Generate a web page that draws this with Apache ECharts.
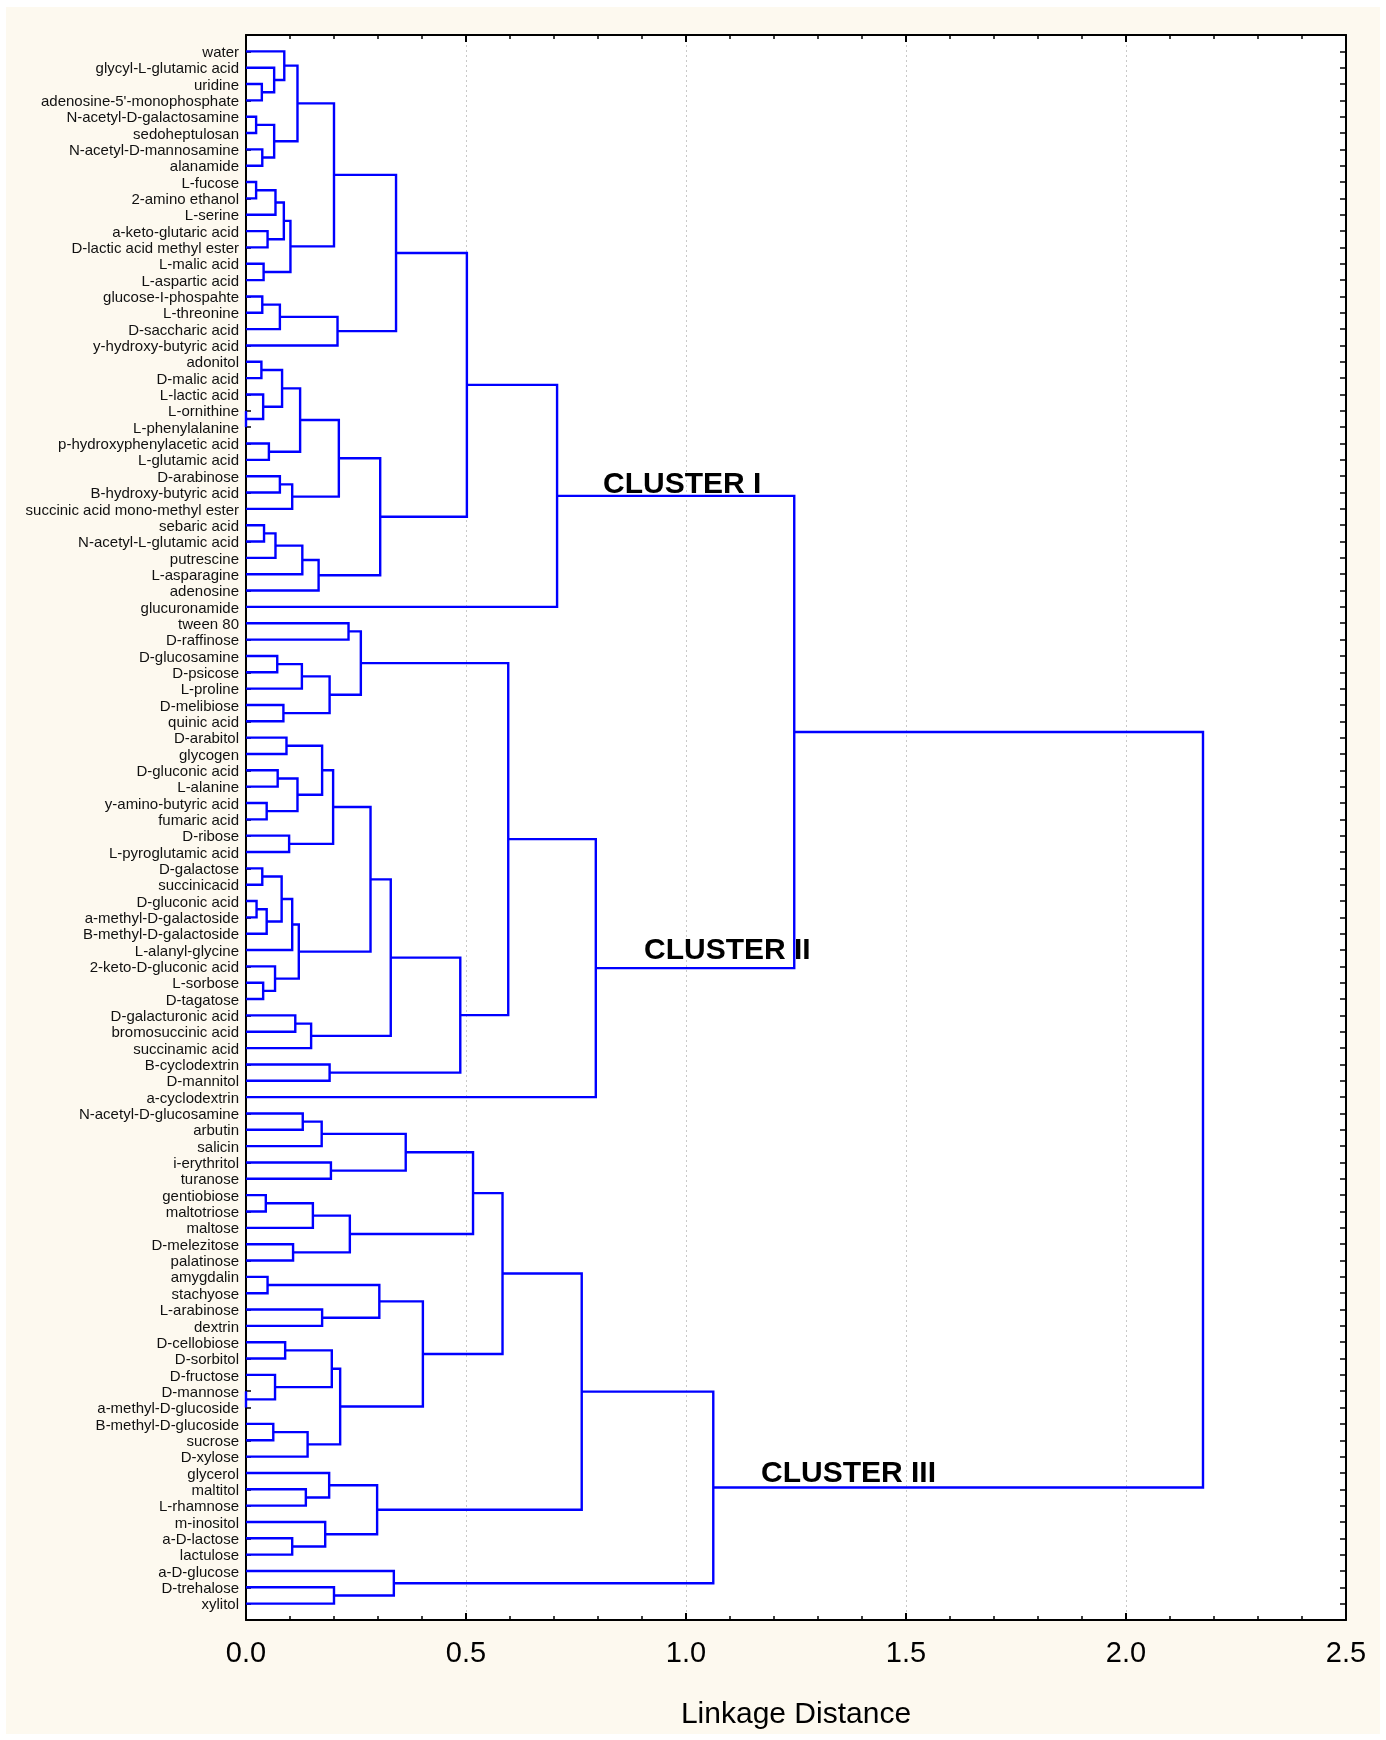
<!DOCTYPE html>
<html><head><meta charset="utf-8">
<script src="https://cdn.jsdelivr.net/npm/echarts@6/dist/echarts.min.js"></script>
<style>html,body{margin:0;padding:0;background:#fff}#c{position:absolute;left:6px;top:7px;width:1374px;height:1727px}</style>
</head><body><div id="c"></div><script>
// Leaf labels (top to bottom)
const leaves = [
"water","glycyl-L-glutamic acid","uridine","adenosine-5'-monophosphate","N-acetyl-D-galactosamine",
"sedoheptulosan","N-acetyl-D-mannosamine","alanamide","L-fucose","2-amino ethanol","L-serine",
"a-keto-glutaric acid","D-lactic acid methyl ester","L-malic acid","L-aspartic acid","glucose-I-phospahte",
"L-threonine","D-saccharic acid","y-hydroxy-butyric acid","adonitol","D-malic acid","L-lactic acid",
"L-ornithine","L-phenylalanine","p-hydroxyphenylacetic acid","L-glutamic acid","D-arabinose",
"B-hydroxy-butyric acid","succinic acid mono-methyl ester","sebaric acid","N-acetyl-L-glutamic acid",
"putrescine","L-asparagine","adenosine","glucuronamide","tween 80","D-raffinose","D-glucosamine",
"D-psicose","L-proline","D-melibiose","quinic acid","D-arabitol","glycogen","D-gluconic acid",
"L-alanine","y-amino-butyric acid","fumaric acid","D-ribose","L-pyroglutamic acid","D-galactose",
"succinicacid","D-gluconic acid","a-methyl-D-galactoside","B-methyl-D-galactoside","L-alanyl-glycine",
"2-keto-D-gluconic acid","L-sorbose","D-tagatose","D-galacturonic acid","bromosuccinic acid",
"succinamic acid","B-cyclodextrin","D-mannitol","a-cyclodextrin","N-acetyl-D-glucosamine","arbutin",
"salicin","i-erythritol","turanose","gentiobiose","maltotriose","maltose","D-melezitose","palatinose",
"amygdalin","stachyose","L-arabinose","dextrin","D-cellobiose","D-sorbitol","D-fructose","D-mannose",
"a-methyl-D-glucoside","B-methyl-D-glucoside","sucrose","D-xylose","glycerol","maltitol","L-rhamnose",
"m-inositol","a-D-lactose","lactulose","a-D-glucose","D-trehalose","xylitol"
];

// Merges: [first leaf, first leaf of right part, last leaf, linkage distance]
const mergesCluster1 = [
[2,3,3,0.036],[1,2,3,0.064],[0,1,3,0.087],[4,5,5,0.023],[6,7,7,0.037],[4,6,7,0.064],[0,4,7,0.117],
[8,9,9,0.023],[8,10,10,0.067],[11,12,12,0.049],[8,11,12,0.086],[13,14,14,0.040],[8,13,14,0.101],
[0,8,14,0.200],[15,16,16,0.037],[15,17,17,0.077],[15,18,18,0.208],[0,15,18,0.341],
[19,20,20,0.035],[22,23,23,0.0],[21,22,23,0.039],[19,21,23,0.082],[24,25,25,0.052],[19,24,25,0.123],
[26,27,27,0.077],[26,28,28,0.105],[19,26,28,0.211],[29,30,30,0.041],[29,31,31,0.067],[29,32,32,0.128],
[29,33,33,0.165],[19,29,33,0.305],[0,19,33,0.502],[0,34,34,0.707]
];
const mergesCluster2 = [
[35,36,36,0.233],[37,38,38,0.071],[37,39,39,0.127],[40,41,41,0.085],[37,40,41,0.190],[35,37,41,0.261],
[42,43,43,0.092],[44,45,45,0.072],[46,47,47,0.047],[44,46,47,0.117],[42,44,47,0.173],[48,49,49,0.098],
[42,48,49,0.198],[50,51,51,0.037],[52,53,53,0.024],[52,54,54,0.047],[50,52,54,0.081],[50,55,55,0.105],
[57,58,58,0.039],[56,57,58,0.066],[50,56,58,0.120],[42,50,58,0.283],[59,60,60,0.112],[59,61,61,0.148],
[42,59,61,0.329],[62,63,63,0.190],[42,62,63,0.487],[35,42,63,0.596],[35,64,64,0.795]
];
const mergesCluster3 = [
[65,66,66,0.129],[65,67,67,0.172],[68,69,69,0.193],[65,68,69,0.363],[70,71,71,0.045],[70,72,72,0.152],
[73,74,74,0.107],[70,73,74,0.236],[65,70,74,0.516],[75,76,76,0.049],[77,78,78,0.173],[75,77,78,0.303],
[79,80,80,0.089],[82,83,83,0.0],[81,82,83,0.066],[79,81,83,0.195],[84,85,85,0.062],[84,86,86,0.140],
[79,84,86,0.214],[75,79,86,0.402],[65,75,86,0.583],[88,89,89,0.136],[87,88,89,0.189],[91,92,92,0.105],
[90,91,92,0.180],[87,90,92,0.298],[65,87,92,0.763],[94,95,95,0.200],[93,94,95,0.336],[65,93,95,1.062]
];
const mergesTop = [[0,35,64,1.246],[0,65,95,2.175]];

const xTickLabels = ["0.0","0.5","1.0","1.5","2.0","2.5"];
const clusterNames = ["CLUSTER I","CLUSTER II","CLUSTER III"];

// Build bracket segments from the merge table
const nodes = {};
leaves.forEach((n,i)=>{ nodes[i+'-'+i] = {h:0, y:i}; });
const allMerges = mergesCluster1.concat(mergesCluster2, mergesCluster3, mergesTop);
const segs = allMerges.map(([s,m,e,h])=>{
  const L = nodes[s+'-'+(m-1)], R = nodes[m+'-'+e];
  nodes[s+'-'+e] = {h:h, y:(L.y+R.y)/2};
  return [L.h, L.y, R.h, R.y, h];
});

const FONT = '"Liberation Sans", Arial, sans-serif';
const chart = echarts.init(document.getElementById('c'), null, {renderer:'canvas'});
const xBase = {
  type:'value', min:0, max:2.5, interval:0.5,
  axisLine:{show:true, onZero:false, lineStyle:{color:'#000', width:2}},
  axisTick:{show:true, inside:true, length:7, lineStyle:{color:'#000', width:2}},
  minorTick:{show:true, splitNumber:5, length:4, lineStyle:{color:'#000', width:1.5}},
  minorSplitLine:{show:false}
};
const yBase = {
  type:'value', min:-1, max:96, interval:1, inverse:true,
  axisLine:{show:true, onZero:false, lineStyle:{color:'#000', width:2}},
  axisTick:{show:true, inside:true, length:5, lineStyle:{color:'#000', width:1.5}},
  splitLine:{show:false}
};
chart.setOption({
  backgroundColor:'#fdf9ef',
  animation:false,
  grid:{left:240, right:34, top:28, bottom:114, show:true, backgroundColor:'#fff', borderWidth:0, containLabel:false, outerBoundsMode:'none'},
  xAxis:[
    Object.assign({}, xBase, {
      position:'bottom',
      axisLabel:{show:true, margin:19, fontSize:29, color:'#000', fontFamily:FONT,
        formatter:(v)=>xTickLabels[Math.round(v/0.5)]},
      splitLine:{show:true, lineStyle:{color:'#c8c8c8', type:[2,3], width:1}},
      name:'Linkage Distance', nameLocation:'middle', nameGap:80,
      nameTextStyle:{fontSize:30, color:'#000', fontFamily:FONT}
    }),
    Object.assign({}, xBase, {position:'top', axisLabel:{show:false}, splitLine:{show:false}})
  ],
  yAxis:[
    Object.assign({}, yBase, {
      position:'left',
      axisLabel:{show:true, margin:7, fontSize:15, color:'#111', fontFamily:FONT,
        verticalAlign:'top', lineHeight:3,
        formatter:(v)=> (leaves[v] !== undefined ? leaves[v] : '')}
    }),
    Object.assign({}, yBase, {position:'right', axisLabel:{show:false}, axisTick:{show:true, inside:true, length:6, lineStyle:{color:'#000', width:1.5}}})
  ],
  series:[{
    type:'custom', xAxisIndex:0, yAxisIndex:0, silent:true, clip:false,
    encode:{x:[0,2,4], y:[1,3]},
    data:segs,
    renderItem:(params, api)=>{
      const hl=api.value(0), yl=api.value(1), hr=api.value(2), yr=api.value(3), h=api.value(4);
      return {type:'polyline', shape:{points:[api.coord([hl,yl]), api.coord([h,yl]), api.coord([h,yr]), api.coord([hr,yr])]},
        style:{stroke:'#0000ff', lineWidth:2.4, fill:'none'}};
    }
  }],
  graphic:[
    {type:'text', x:597, y:478, z:100, style:{text:clusterNames[0], font:'bold 30px '+FONT, fill:'#000', textVerticalAlign:'middle'}},
    {type:'text', x:638, y:944, z:100, style:{text:clusterNames[1], font:'bold 30px '+FONT, fill:'#000', textVerticalAlign:'middle'}},
    {type:'text', x:755, y:1467, z:100, style:{text:clusterNames[2], font:'bold 30px '+FONT, fill:'#000', textVerticalAlign:'middle'}}
  ]
});
</script></body></html>
